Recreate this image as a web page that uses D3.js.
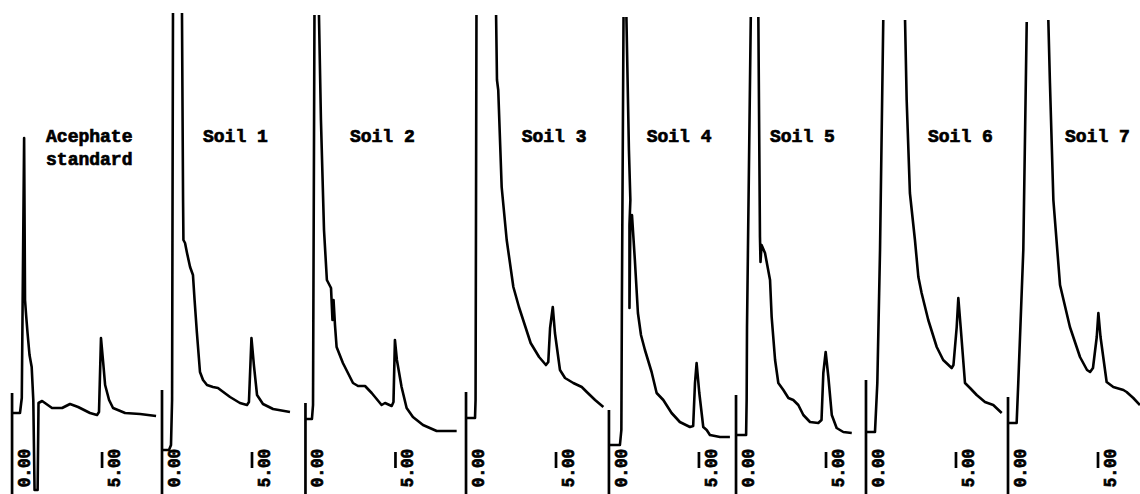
<!DOCTYPE html>
<html><head><meta charset="utf-8">
<script src="https://cdn.jsdelivr.net/npm/d3@7"></script>
<style>html,body{margin:0;padding:0;background:#fff;} svg{display:block;}</style>
</head><body>
<svg id="chart" width="1140" height="494"></svg>
<script>
// ---------- DATA (time in min after injection, detector response in arbitrary units; null = pen off-scale) ----------
const panelLabels = [["Acephate", "standard"], ["Soil 1"], ["Soil 2"], ["Soil 3"], ["Soil 4"], ["Soil 5"], ["Soil 6"], ["Soil 7"]];
const injectAt = [0.67, 9.0, 16.97, 25.89, 33.83, 40.89, 48.11, 56.0];   // chart minutes at injection
const markTop = [97, 100, 87, 98, 80, 95, 110, 93];                   // injection marker height
const tickTimes = [0, 5];
const tickLabels = ["0.00", "5.00"];

const standard = [[0,77],[0.44,77],[0.54,92],[0.67,352],[0.72,190],[0.78,175],[0.86,157],[0.97,135],[1.09,123],[1.18,90],[1.25,0],[1.42,0],[1.47,87],[1.67,89],[2.22,82],[2.78,82],[3.22,86],[3.67,83],[4.33,77],[4.72,75],[4.83,78],[4.94,152],[5.06,128],[5.17,105],[5.39,90],[5.61,82],[6.28,77],[7.11,76],[8.0,74]];
const soil1 = [[0,40],[0.39,40],[0.5,45],[0.56,90],[0.61,477],null,[1.11,477],[1.17,290],[1.19,250],[1.28,247],[1.39,237],[1.56,223],[1.72,215],[1.81,190],[1.94,157],[2.11,118],[2.28,110],[2.5,105],[2.83,103],[3.11,102],[3.33,99],[3.78,93],[4.33,87],[4.72,85],[4.83,88],[4.97,152],[5.11,124],[5.28,95],[5.61,86],[6.17,81],[7.11,78]];
const soil2 = [[0,71],[0.36,71],[0.42,85],[0.5,475],null,[0.75,475],[0.86,370],[1.03,260],[1.19,210],[1.42,202],[1.5,170],[1.56,190],[1.64,165],[1.73,143],[2.08,127],[2.64,107],[2.92,104],[3.31,104],[3.68,97],[4.23,85],[4.42,87],[4.79,84],[4.89,88],[4.97,150],[5.08,130],[5.34,103],[5.62,82],[5.97,73],[6.53,65],[7.29,59],[8.4,59]];
const soil3 = [[0,72],[0.5,72],[0.53,90],[0.58,475],null,[1.67,475],[1.72,410],[1.79,400],[1.98,303],[2.26,250],[2.63,203],[2.94,183],[3.59,147],[4.06,133],[4.44,125],[4.57,128],[4.67,162],[4.82,183],[4.94,157],[5.22,120],[5.5,112],[5.96,107],[6.43,103],[6.71,98],[7.17,90],[7.63,83]];
const soil4 = [[0,45],[0.61,45],[0.69,60],[0.72,190],[0.81,473],null,[0.97,473],[1.11,340],[1.19,290],[1.14,265],[1.14,182],[1.19,265],[1.28,275],[1.44,230],[1.61,177],[1.78,155],[2.0,140],[2.37,118],[2.65,97],[3.02,90],[3.48,77],[3.94,68],[4.5,63],[4.68,64],[4.78,107],[4.87,127],[5.02,97],[5.24,63],[5.43,60],[5.61,55],[6.17,53],[6.72,53]];
const soil5 = [[0,55],[0.56,55],[0.59,90],[0.61,163],[0.82,473],null,[1.24,473],[1.33,253],[1.36,228],[1.42,245],[1.61,237],[1.89,210],[1.98,173],[2.17,130],[2.35,107],[2.63,100],[2.91,92],[3.18,90],[3.46,85],[3.74,75],[4.11,68],[4.57,67],[4.75,70],[4.85,117],[4.98,138],[5.13,113],[5.32,75],[5.59,62],[5.96,58],[6.43,57]];
const soil6 = [[0,58],[0.5,58],[0.63,107],[0.78,240],[0.96,470],null,[2.17,470],[2.26,390],[2.44,297],[2.72,250],[2.91,213],[3.09,197],[3.46,170],[3.93,143],[4.29,130],[4.76,122],[4.86,125],[5.04,163],[5.13,192],[5.26,163],[5.5,107],[5.78,102],[6.15,95],[6.61,88],[7.07,85],[7.54,77]];
const soil7 = [[0,67],[0.48,67],[0.57,107],[0.85,240],[1.04,468],null,[2.24,470],[2.33,407],[2.52,290],[2.89,205],[3.44,163],[4.0,133],[4.39,120],[4.56,118],[4.72,122],[4.93,153],[5.02,177],[5.14,153],[5.48,108],[5.85,103],[6.41,100],[6.59,98],[6.96,92],[7.33,85]];
const traces = [standard, soil1, soil2, soil3, soil4, soil5, soil6, soil7];

// ---------- LAYOUT ----------
const W = 1140, H = 494;
const labelOffset = [34, 41, 44.5, 55.7, 37.7, 34, 62, 57]; // px right of injection point
const svg = d3.select("#chart");
svg.append("rect").attr("width", W).attr("height", H).attr("fill", "#fff");

const x = d3.scaleLinear().domain([0, 63.333]).range([0, W]);
const y = d3.scaleLinear().domain([0, 480]).range([490, 10]);

const font = "'Liberation Mono', 'Courier New', monospace";

traces.forEach((tr, i) => {
  const t0 = injectAt[i];
  const g = svg.append("g");
  const x0 = x(t0);
  // injection marker (vertical baseline bar down to chart edge)
  g.append("line")
    .attr("x1", x0).attr("x2", x0)
    .attr("y1", y(markTop[i])).attr("y2", H)
    .attr("stroke", "#000").attr("stroke-width", 2.7);
  // trace
  const ln = d3.line()
    .defined(d => d !== null)
    .x(d => x(t0 + d[0]))
    .y(d => y(d[1]));
  g.append("path")
    .attr("d", ln(tr))
    .attr("fill", "none")
    .attr("stroke", "#000")
    .attr("stroke-width", 2.6)
    .attr("stroke-linejoin", "round");
  // retention-time ticks and labels
  tickTimes.forEach((tt, j) => {
    const tx = x(t0 + tt);
    if (tt > 0) {
      g.append("line")
        .attr("x1", tx).attr("x2", tx)
        .attr("y1", 452).attr("y2", 468)
        .attr("stroke", "#000").attr("stroke-width", 2.7);
    }
    g.append("text")
      .attr("transform", `translate(${tx + 13},${468}) rotate(-90) scale(1,1.15)`)
      .attr("text-anchor", "middle")
      .attr("dominant-baseline", "central")
      .attr("font-family", font)
      .attr("font-weight", "bold")
      .attr("font-size", 16)
      .attr("stroke", "#000").attr("stroke-width", 0.6)
      .attr("fill", "#000")
      .text(tickLabels[j]);
  });
  // sample label
  panelLabels[i].forEach((s, k) => {
    g.append("text")
      .attr("x", x0 + labelOffset[i])
      .attr("y", 142 + k * 23)
      .attr("font-family", font)
      .attr("font-weight", "bold")
      .attr("font-size", 18)
      .attr("stroke", "#000").attr("stroke-width", 0.7)
      .attr("fill", "#000")
      .text(s);
  });
});
</script>
</body></html>
